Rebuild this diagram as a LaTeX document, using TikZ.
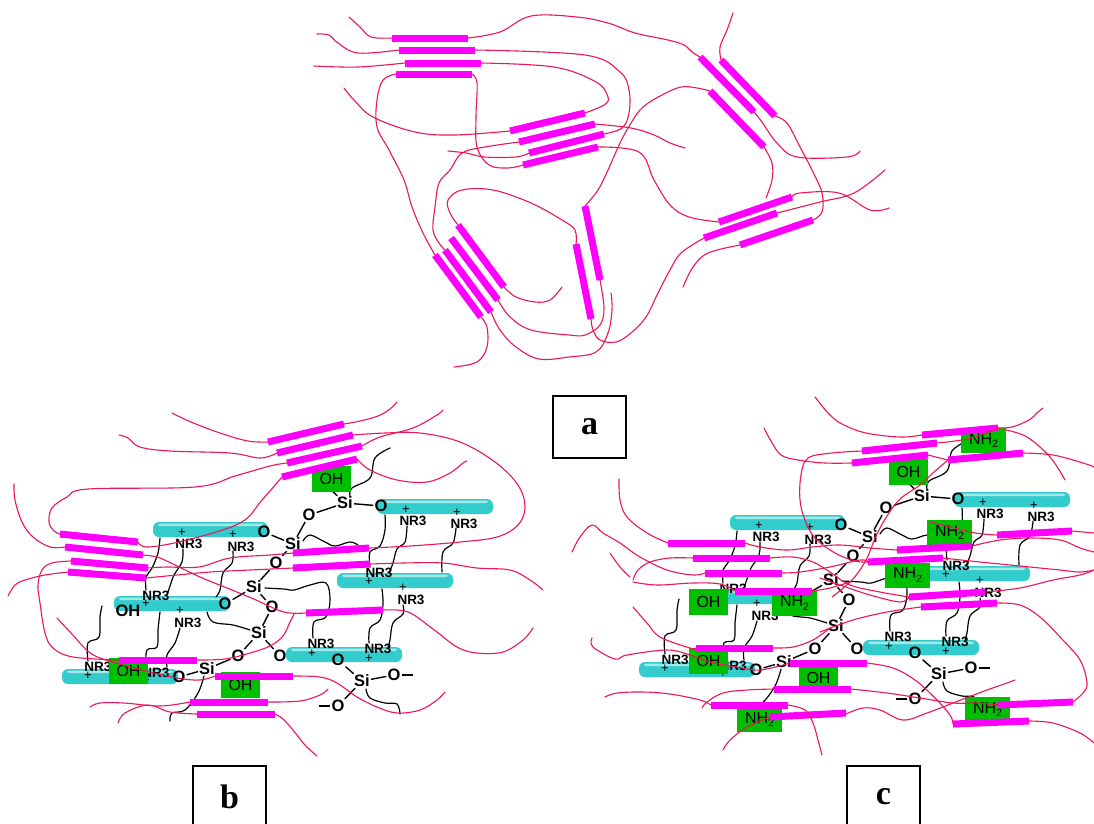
\documentclass[tikz,border=0pt]{standalone}
\usepackage{fontspec}
\setmainfont{Liberation Sans}
\newfontfamily\labelfont{Liberation Serif}
\definecolor{strandc}{RGB}{236,22,88}
\definecolor{barc}{RGB}{255,0,255}
\definecolor{diskc}{RGB}{51,204,204}
\definecolor{diskhi}{RGB}{165,232,232}
\definecolor{boxc}{RGB}{0,190,0}

% polymer strand, hard segment, alkyl chain
\newcommand\strand[1]{\draw[strand] plot[smooth,tension=0.6] coordinates {#1};}
\newcommand\chainline[1]{\draw[chain] plot[smooth,tension=0.6] coordinates {#1};}
\newcommand\rod[2]{\draw[rod] #1 -- #2;}
% clay platelet seen edge-on: left x, top y, right x
\newcommand\diskshape[3]{%
  \fill[diskc, rounded corners=6pt] (#1,#2) rectangle (#3,#2+15);
  \fill[diskhi, rounded corners=2pt] (#1+5,#2+1.5) rectangle (#3-5,#2+4);
}
\newcommand\NHtwo{NH\raisebox{-0.45ex}{\fontsize{10.5}{10.5}\selectfont 2}}

% silicate platelets, quaternary ammonium chains and the siloxane network
\newcommand\chemistry{%
  \diskshape{153}{522}{268}
  \diskshape{377}{499}{493}
  \diskshape{337}{573}{453}
  \diskshape{114}{596}{230}
  \diskshape{286}{647}{402}
  \diskshape{62}{669}{178}
  \chainline{(160,538)(158,553)(152,568)(146,577)(146,590)}
  \chainline{(183,549)(182,562)(174,575)(170,586)(167,595)}
  \chainline{(233,551)(232,563)(223,573)(220,590)(216,597)}
  \chainline{(385,515)(385,530)(380,546)(370,552)(370,567)}
  \chainline{(407,526)(405,542)(397,549)(393,563)(389,573)}
  \chainline{(456,528)(453,543)(443,552)(442,572)}
  \chainline{(382,589)(383,604)(380,620)(370,628)(369,643)}
  \chainline{(403,605)(403,614)(393,623)(390,640)(388,647)}
  \chainline{(265,588)(284,589)(294,590)(310,585)(326,583)(330,600)(326,617)(314,622)(313,638)}
  \chainline{(303,541)(310,535)(325,542)(335,546)(350,542)(358,545)}
  \chainline{(350,496)(352,488)(370,478)(375,458)(390,448)}
  \chainline{(207,612)(213,622)(233,625)(250,630)}
  \chainline{(88,661)(88,643)(99,637)(100,617)(102,606)}
  \chainline{(146,666)(147,650)(157,647)(158,630)(160,612)}
  \chainline{(167,667)(167,655)(175,643)(180,628)}
  \chainline{(204,676)(198,693)(185,710)(172,713)(170,721)}
  \chainline{(366,689)(370,698)(385,703)(397,704)(400,714)}
  \node[atom] (si1) at (345,503) {Si};
  \node[atom] (si2) at (293,544) {Si};
  \node[atom] (si3) at (254,587) {Si};
  \node[atom] (si4) at (259,633) {Si};
  \node[atom] (si5) at (207,669) {Si};
  \node[atom] (si6) at (362,681) {Si};
  \node[atom] (o1) at (381,506) {O};
  \node[atom] (o2) at (309,515) {O};
  \node[atom] (o3) at (264,532) {O};
  \node[atom] (o4) at (276,563) {O};
  \node[atom] (o5) at (225,604) {O};
  \node[atom] (o6) at (272,607) {O};
  \node[atom] (o7) at (238,656) {O};
  \node[atom] (o8) at (280,656) {O};
  \node[atom] (o9) at (179,677) {O};
  \node[atom] (o10) at (338,660) {O};
  \node[atom] (o11) at (394,675) {O};
  \node[atom] (o12) at (338,706) {O};
  \coordinate (ohlink) at (329,488);
  \draw[bond] (ohlink) -- (si1);
  \draw[bond] (si1) -- (o1);
  \draw[bond] (si1) -- (o2);
  \draw[bond] (o2) -- (si2);
  \draw[bond] (si2) -- (o3);
  \draw[bond] (si2) -- (o4);
  \draw[bond] (o4) -- (si3);
  \draw[bond] (si3) -- (o5);
  \draw[bond] (si3) -- (o6);
  \draw[bond] (o6) -- (si4);
  \draw[bond] (si4) -- (o7);
  \draw[bond] (si4) -- (o8);
  \draw[bond] (o7) -- (si5);
  \draw[bond] (si5) -- (o9);
  \draw[bond] (o10) -- (si6);
  \draw[bond] (si6) -- (o11);
  \draw[bond] (si6) -- (o12);
  \draw[bond] (o11.east) -- ++(11,0);
  \draw[bond] (o12.west) -- ++(-11,0);
  \node[nr] (n1) at (189,544) {NR3};   \node[pl] (p1) at (182,533) {+};
  \node[nr] (n2) at (241,547) {NR3};   \node[pl] (p2) at (233,535) {+};
  \node[nr] (n3) at (413,521) {NR3};   \node[pl] (p3) at (406,510) {+};
  \node[nr] (n4) at (464,524) {NR3};   \node[pl] (p4) at (457,513) {+};
  \node[nr] (n5) at (379,573) {NR3};   \node[pl] (p5) at (369,582) {+};
  \node[nr] (n6) at (156,596) {NR3};   \node[pl] (p6) at (146,604) {+};
  \node[nr] (n7) at (188,623) {NR3};   \node[pl] (p7) at (180,611) {+};
  \node[nr] (n8) at (411,600) {NR3};   \node[pl] (p8) at (403,588) {+};
  \node[nr] (n9) at (321,644) {NR3};   \node[pl] (p9) at (312,654) {+};
  \node[nr] (n10) at (378,649) {NR3};  \node[pl] (p10) at (369,659) {+};
  \node[nr] (n11) at (98,667) {NR3};   \node[pl] (p11) at (88,676) {+};
  \node[nr] (n12) at (156,673) {NR3};  \node[pl] (p12) at (146,681) {+};
}

\begin{document}
\begin{tikzpicture}[x=1pt,y=-1pt,
  strand/.style={draw=strandc, line width=1.1pt, line cap=round, line join=round},
  chain/.style={draw=black, line width=1.2pt, line cap=round},
  rod/.style={draw=barc, line width=7pt},
  bond/.style={draw=black, line width=1.4pt},
  atom/.style={font=\fontsize{16.5}{16.5}\selectfont\bfseries, inner sep=1pt},
  nr/.style={font=\fontsize{13.5}{13.5}\selectfont\bfseries, inner sep=0pt},
  pl/.style={font=\fontsize{13}{13}\selectfont, inner sep=0pt},
  ohbox/.style={fill=boxc, minimum width=39pt, minimum height=26pt, inner sep=0pt, font=\fontsize{16}{16}\selectfont},
  nhbox/.style={fill=boxc, minimum width=45pt, minimum height=25pt, inner sep=0pt, font=\fontsize{16}{16}\selectfont},
  tag/.style={draw=black, line width=1.8pt, minimum width=73pt, minimum height=62pt, inner sep=0pt, font=\labelfont\bfseries\fontsize{34}{34}\selectfont}]
\useasboundingbox (0,0) rectangle (1094,823);
\fill[white] (0,0) rectangle (1094,823);

% ---------- panel a: neat polyurethane ----------
\rod{(392,38)}{(468,38)}
\rod{(399,50)}{(475,50)}
\rod{(405,63)}{(481,63)}
\rod{(396,74)}{(472,74)}
\rod{(510,131)}{(585,113)}
\rod{(519,142)}{(595,124)}
\rod{(529,153)}{(604,134)}
\rod{(523,165)}{(598,147)}
\rod{(700,57)}{(754,112)}
\rod{(721,60)}{(775,116)}
\rod{(710,91)}{(764,147)}
\rod{(719,222)}{(792,197)}
\rod{(704,238)}{(777,213)}
\rod{(740,245)}{(813,220)}
\rod{(458,225)}{(504,287)}
\rod{(451,238)}{(498,300)}
\rod{(445,250)}{(491,312)}
\rod{(435,255)}{(481,317)}
\rod{(585,206)}{(600,280)}
\rod{(576,244)}{(591,319)}

\strand{(349,17)(360,27)(371,37)(392,38)}
\strand{(468,38)(500,32)(531,16)(577,17)(608,23)(635,33)(668,40)(684,45)(692,52)(700,57)}
\strand{(754,112)(762,122)(777,143)(797,157)(847,157)(860,151)}
\strand{(317,34)(329,35)(338,43)(358,53)(399,50)}
\strand{(475,50)(585,55)(620,72)(629,90)(629,113)(622,128)(604,134)}
\strand{(600,280)(604,308)(600,325)(585,335)(569,335)(531,330)(510,317)(498,300)}
\strand{(314,66)(358,67)(405,63)}
\strand{(481,63)(554,67)(596,82)(608,97)(604,105)(585,113)}
\strand{(510,131)(454,135)(415,132)(373,117)(354,100)(344,88)}
\strand{(396,74)(383,80)(377,100)(377,127)(389,150)(404,180)(412,207)(423,233)(435,255)}
\strand{(481,317)(487,327)(487,347)(477,362)(454,367)}
\strand{(472,74)(477,83)(476,117)(477,147)(489,165)(508,168)(523,165)}
\strand{(598,147)(639,152)(654,180)(670,205)(689,217)(719,222)}
\strand{(792,197)(800,193)(839,193)(870,210)(889,208)}
\strand{(721,60)(720,47)(727,30)(733,13)}
\strand{(775,116)(787,123)(800,147)(812,170)(822,193)(822,212)(813,220)}
\strand{(740,245)(708,253)(693,267)(683,287)}
\strand{(710,91)(697,88)(681,87)(662,95)(643,107)(631,123)(620,143)(608,170)(598,190)(585,206)}
\strand{(764,147)(772,163)(772,180)(766,198)}
\strand{(704,238)(681,253)(670,270)(658,293)(646,317)(631,333)(616,342)(600,340)(593,330)(591,319)}
\strand{(777,213)(820,202)(854,193)(885,170)}
\strand{(576,244)(575,230)(562,220)(531,203)(493,190)(462,190)(448,200)(450,213)(458,225)}
\strand{(504,287)(516,297)(535,302)(550,300)(562,287)}
\strand{(491,312)(500,330)(516,347)(539,359)(569,357)(596,352)(608,333)(612,310)(611,293)}
\strand{(595,124)(631,128)(654,135)(670,143)(685,148)}
\strand{(448,151)(466,153)(485,157)(516,157)(529,153)}
\strand{(519,142)(485,147)(462,153)(450,170)(439,183)(435,207)(433,230)(439,243)(445,250)}

\node[tag] (taga) at (589.5,427) {a};

% ---------- panel b: PU / organoclay / silica ----------
\begin{scope}[name prefix=b-]
  \chemistry
  \node[ohbox] (oh1) at (331.5,479) {OH};
  \node[ohbox] (oh2) at (128.5,671) {OH};
  \node[ohbox] (oh3) at (240.5,685) {OH};
  \node[atom] (ohfree) at (128,611) {OH};
\end{scope}

\rod{(268,442)}{(344,424)}
\rod{(277,453)}{(353,435)}
\rod{(287,463)}{(362,446)}
\rod{(282,477)}{(357,459)}
\rod{(60,534)}{(138,542)}
\rod{(65,547)}{(143,555)}
\rod{(71,561)}{(148,568)}
\rod{(68,572)}{(146,578)}
\rod{(293,553)}{(369,548)}
\rod{(293,568)}{(370,564)}
\rod{(306,613)}{(383,610)}
\rod{(119,660)}{(197,660)}
\rod{(215,676)}{(293,676)}
\rod{(190,702)}{(268,702)}
\rod{(197,714)}{(275,714)}

\strand{(172,413)(191,422)(220,433)(248,441)(268,442)}
\strand{(344,424)(360,421)(378,416)(390,409)(397,402)}
\strand{(119,435)(128,438)(140,447)(170,451)(230,453)(260,458)(277,453)}
\strand{(353,435)(385,433)(420,433)(460,442)(495,462)(518,485)(525,507)(518,525)(497,537)(460,542)(410,546)(369,548)}
\strand{(287,463)(270,466)(235,476)(195,487)(88,489)(67,497)(52,508)(49,522)(54,531)(60,534)}
\strand{(362,446)(380,437)(413,428)(437,415)(443,410)}
\strand{(357,459)(370,470)(397,480)(427,482)(450,473)(463,463)(467,461)}
\strand{(138,542)(148,547)(187,540)(240,523)(262,500)(282,477)}
\strand{(14,484)(15,500)(22,522)(33,537)(50,547)(65,547)}
\strand{(143,555)(157,557)(171,563)(200,577)(232,590)(256,600)(284,612)(306,613)}
\strand{(383,610)(408,612)(433,629)(457,647)(477,653)(503,652)(523,640)(533,628)}
\strand{(71,561)(52,563)(42,570)(38,585)(40,603)(45,633)(53,648)(73,657)(119,660)}
\strand{(68,572)(45,575)(25,580)(15,585)(8,596)}
\strand{(197,660)(225,659)(250,653)(270,646)(283,636)(290,622)(294,614)}
\strand{(57,618)(71,633)(89,652)(106,660)(142,670)(177,678)(200,680)(215,676)}
\strand{(293,676)(320,677)(337,683)(357,697)(377,707)(397,713)(420,710)(437,700)(445,692)}
\strand{(90,707)(100,703)(124,703)(160,706)(190,702)}
\strand{(118,723)(125,713)(148,705)(170,712)(197,714)}
\strand{(268,702)(300,701)(320,695)(328,689)}
\strand{(275,714)(283,719)(293,730)(305,745)(317,756)}
\strand{(370,564)(403,563)(443,563)(477,568)(510,570)(530,580)(543,590)}
\strand{(293,553)(270,555)(230,558)(199,567)(167,567)(148,568)}
\strand{(293,568)(250,570)(210,572)(177,575)(146,578)}

\node[tag] (tagb) at (229.5,797) {b};

% ---------- panel c: PU / organoclay / amino-silica ----------
\begin{scope}[name prefix=c-, shift={(577,-7)}]
  \chemistry
\end{scope}
\node[ohbox] (c-oh1) at (908.5,472) {OH};
\node[ohbox] (c-oh2) at (708.5,660.5) {OH};
\node[ohbox] (c-oh3) at (818.5,678) {OH};
\node[ohbox] (c-oh4) at (708.5,601.5) {OH};
\node[nhbox] (c-nh1) at (983.5,440.5) {\NHtwo};
\node[nhbox] (c-nh2) at (949.5,532.5) {\NHtwo};
\node[nhbox] (c-nh3) at (907.5,575) {\NHtwo};
\node[nhbox] (c-nh4) at (794.5,603) {\NHtwo};
\node[nhbox] (c-nh5) at (759.5,719.5) {\NHtwo};
\node[nhbox] (c-nh6) at (987.5,709.5) {\NHtwo};

\rod{(922,435)}{(998,428)}
\rod{(862,451)}{(937,443)}
\rod{(852,463)}{(928,455)}
\rod{(948,460)}{(1023,453)}
\rod{(997,535)}{(1072,531)}
\rod{(897,550)}{(972,546)}
\rod{(868,562)}{(943,558)}
\rod{(668,543)}{(745,543)}
\rod{(693,558)}{(770,558)}
\rod{(705,573)}{(782,573)}
\rod{(735,591)}{(812,591)}
\rod{(909,597)}{(985,592)}
\rod{(921,607)}{(997,603)}
\rod{(696,648)}{(773,648)}
\rod{(790,663)}{(867,663)}
\rod{(774,689)}{(851,689)}
\rod{(711,705)}{(788,705)}
\rod{(770,717)}{(846,713)}
\rod{(998,705)}{(1073,702)}
\rod{(953,724)}{(1029,721)}

\strand{(815,397)(829,414)(842,424)(866,433)(900,437)(922,435)}
\strand{(998,428)(1012,427)(1029,420)(1038,412)(1043,408)}
\strand{(1006,430)(1027,437)(1050,457)(1065,480)}
\strand{(764,428)(771,441)(781,455)(798,460)(825,463)(852,463)}
\strand{(862,451)(832,453)(808,458)(801,475)(800,500)(805,520)(815,538)(835,553)(855,561)(868,562)}
\strand{(1023,453)(1053,455)(1083,463)(1094,467)}
\strand{(832,597)(852,580)(866,560)(876,536)(887,516)(900,499)(920,485)(934,472)(948,460)}
\strand{(937,443)(955,441)(975,437)(998,428)}
\strand{(928,455)(940,458)(948,460)}
\strand{(619,479)(620,500)(627,517)(647,533)(668,543)}
\strand{(745,543)(760,547)(787,550)(813,547)(840,545)(870,548)(897,550)}
\strand{(572,552)(580,537)(592,525)(603,533)(620,543)(640,557)(667,570)(693,575)(705,573)}
\strand{(693,558)(670,558)(650,562)(638,570)(633,580)}
\strand{(782,573)(800,572)(830,567)(860,560)(868,562)}
\strand{(770,558)(793,557)(813,562)(830,572)(850,585)(880,592)(909,597)}
\strand{(610,553)(620,567)(630,577)}
\strand{(633,582)(657,585)(693,583)(720,584)(735,591)}
\strand{(812,591)(830,588)(850,582)}
\strand{(972,546)(1000,540)(1030,538)(1060,540)(1080,548)(1094,552)}
\strand{(943,558)(980,562)(1020,566)(1060,570)(1080,572)(1094,570)}
\strand{(1072,531)(1094,533)}
\strand{(997,535)(975,533)(950,527)(930,522)}
\strand{(633,607)(647,623)(660,637)(690,648)(696,648)}
\strand{(773,648)(793,647)(813,640)(830,628)}
\strand{(592,638)(593,647)(615,659)(627,655)(667,650)(690,655)(710,662)(737,667)(760,670)(790,663)}
\strand{(867,663)(893,668)(915,680)(935,698)(950,715)(953,724)}
\strand{(605,697)(617,693)(643,692)(670,694)(700,700)(711,705)}
\strand{(788,705)(805,710)(813,723)(818,740)(822,755)}
\strand{(774,689)(747,690)(723,693)(707,702)(702,708)}
\strand{(851,689)(887,693)(920,698)(953,703)(977,703)(998,705)}
\strand{(723,750)(730,740)(747,727)(767,718)(770,717)}
\strand{(846,714)(863,708)(880,710)(903,720)(927,713)(953,703)(987,690)(1007,683)(1015,680)}
\strand{(1029,721)(1053,723)(1080,733)(1094,743)}
\strand{(820,578)(840,585)(870,595)(900,602)(909,597)}
\strand{(985,592)(1020,588)(1053,580)(1080,575)(1094,570)}
\strand{(820,632)(853,620)(887,612)(921,607)}
\strand{(997,603)(1020,605)(1040,617)(1060,637)(1080,660)(1087,683)(1083,693)(1073,702)}

\node[tag] (tagc) at (883.5,797) {c};
\end{tikzpicture}
\end{document}
